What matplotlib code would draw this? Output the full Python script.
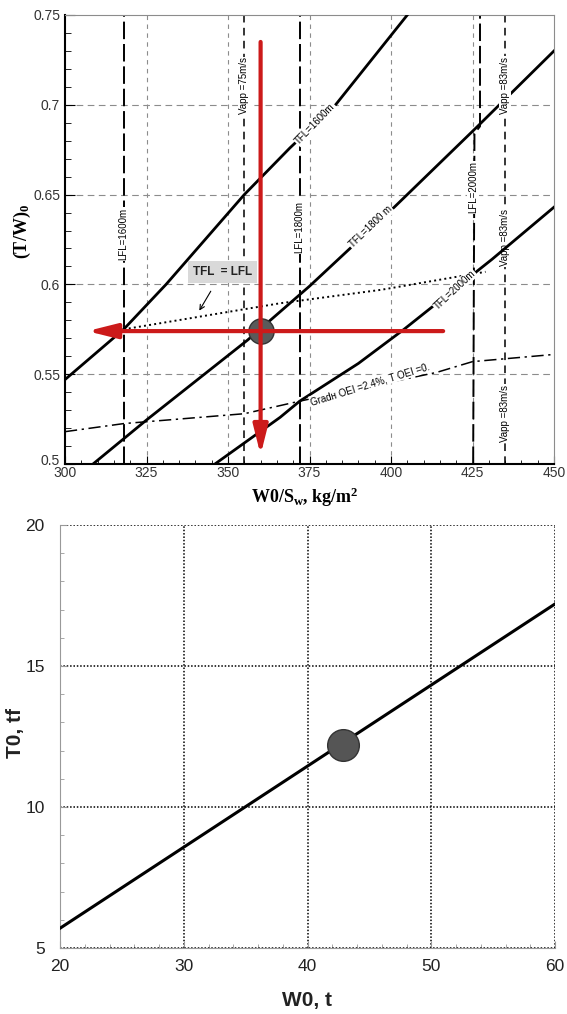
import matplotlib
matplotlib.use("Agg")
import matplotlib.pyplot as plt
import matplotlib.transforms as mtransforms
from matplotlib.ticker import MultipleLocator

plt.rcParams["font.family"] = ["Liberation Sans", "DejaVu Sans"]
plt.rcParams["mathtext.fontset"] = "custom"
plt.rcParams["mathtext.rm"] = "Liberation Serif"
plt.rcParams["mathtext.it"] = "Liberation Serif:italic"
plt.rcParams["mathtext.bf"] = "Liberation Serif:bold"

# ── data: constraint diagram (wing loading vs thrust/weight) ────────────────
TFL1600_X = [300, 318, 331, 355, 369, 383, 405]
TFL1600_Y = [0.547, 0.575, 0.600, 0.650, 0.676, 0.700, 0.750]
TFL1800_X = [308.6, 325, 356, 375, 401, 426, 450]
TFL1800_Y = [0.500, 0.5245, 0.569, 0.599, 0.643, 0.687, 0.730]
TFL2000_X = [346, 366, 372, 390, 404, 431, 450]
TFL2000_Y = [0.500, 0.526, 0.535, 0.556, 0.575, 0.614, 0.643]

TFL_EQ_LFL_X = [318, 366, 397, 429]
TFL_EQ_LFL_Y = [0.575, 0.5895, 0.597, 0.607]

GRAD_X = [300, 318, 355, 372, 414, 425, 450]
GRAD_Y = [0.518, 0.5225, 0.528, 0.535, 0.551, 0.557, 0.561]

LFL1600_X = [318, 318]
LFL1800_X = [372, 372]
LFL2000_X = [425.2, 425.6, 427.3, 427.3]
LFL2000_Y = [0.500, 0.684, 0.688, 0.750]
VAPP75_X = [355, 355]
VAPP83_X = [435, 435]
FULL_Y = [0.5, 0.75]

DESIGN_WS = 360
DESIGN_TW = 0.574

# ── data: thrust vs take-off weight ─────────────────────────────────────────
W0 = [20, 60]
T0 = [5.7, 17.2]
DESIGN_W0 = 42.9
DESIGN_T0 = 12.2

RED = "#cc1a1a"
GRID = "#8c8c8c"

fig = plt.figure(figsize=(5.67, 10.14), dpi=100)

# ── top chart ───────────────────────────────────────────────────────────────
ax = fig.add_axes([65 / 567, 550 / 1014, 489 / 567, 449 / 1014])
ax.set_xlim(300, 450)
ax.set_ylim(0.5, 0.75)

for x in [325, 350, 375, 400, 425]:
    ax.axvline(x, color=GRID, lw=0.8, ls=(0, (4, 4)), zorder=0)
for y in [0.55, 0.6, 0.65, 0.7]:
    ax.axhline(y, color=GRID, lw=0.8, ls=(0, (6, 4)), zorder=0)

# field length / approach speed limits
lfl_style = dict(color="black", lw=1.4, ls=(0, (9, 2.5)), zorder=2)
vapp_style = dict(color="black", lw=1.1, ls=(0, (5, 3.5)), zorder=2)
ax.plot(LFL1600_X, FULL_Y, **lfl_style)
ax.plot(LFL1800_X, FULL_Y, **lfl_style)
ax.plot(LFL2000_X, LFL2000_Y, **lfl_style)
ax.plot(VAPP75_X, FULL_Y, **vapp_style)
ax.plot(VAPP83_X, FULL_Y, **vapp_style)

# take-off field length curves
for xs, ys in [(TFL1600_X, TFL1600_Y), (TFL1800_X, TFL1800_Y), (TFL2000_X, TFL2000_Y)]:
    ax.plot(xs, ys, color="black", lw=2.0, zorder=4)

ax.plot(TFL_EQ_LFL_X, TFL_EQ_LFL_Y, color="black", lw=1.4, ls=":", zorder=3)
ax.plot(GRAD_X, GRAD_Y, color="black", lw=1.1, ls=(0, (8, 3, 1.5, 3)), zorder=3)

# line labels (white patch breaks the line, Tecplot style)
lbl = dict(fontsize=7, ha="center", va="center", rotation_mode="anchor",
           bbox=dict(facecolor="white", edgecolor="none", pad=0.6), zorder=5)
ax.text(318, 0.628, "LFL=1600m", rotation=90, **lbl)
ax.text(355, 0.7105, "Vapp =75m/s", rotation=90, **lbl)
ax.text(372, 0.632, "LFL=1800m", rotation=90, **lbl)
ax.text(425.2, 0.654, "LFL=2000m", rotation=90, **lbl)
ax.text(435, 0.711, "Vapp =83m/s", rotation=90, **lbl)
ax.text(435, 0.626, "Vapp =83m/s", rotation=90, **{**lbl, "zorder": 3.5})
ax.text(435, 0.528, "Vapp =83m/s", rotation=90, **lbl)
ax.text(376.7, 0.6895, "TFL=1600m", rotation=46, **lbl)
ax.text(393.8, 0.632, "TFL=1800 m", rotation=44, **lbl)
ax.text(419.5, 0.597, "TFL=2000m", rotation=43, **lbl)
ax.text(393.5, 0.5445, "Gradн OEI =2.4%, T OEI =0.", rotation=17, **lbl)

ax.annotate("TFL  = LFL", xy=(341.2, 0.5854), xytext=(348.2, 0.6069),
            fontsize=8.5, fontweight="bold", color="#222222", ha="center", va="center",
            bbox=dict(facecolor="#d9d9d9", edgecolor="none", pad=3.5),
            arrowprops=dict(arrowstyle="->", color="black", lw=0.8,
                            shrinkA=7, shrinkB=0), zorder=6)

# design point and read-off arrows
ax.scatter([DESIGN_WS], [DESIGN_TW], s=330, color="#5a5a5a", edgecolor="#333333",
           lw=1.0, zorder=7)
arrow = dict(arrowstyle="-|>,head_length=0.8,head_width=0.2", color=RED, lw=3,
             mutation_scale=22, shrinkA=0, shrinkB=0)
ax.annotate("", xy=(DESIGN_WS, 0.505), xytext=(DESIGN_WS, 0.735),
            arrowprops=arrow, zorder=8)
ax.annotate("", xy=(306.8, DESIGN_TW), xytext=(416, DESIGN_TW),
            arrowprops=arrow, zorder=8)

ax.xaxis.set_major_locator(MultipleLocator(25))
ax.xaxis.set_minor_locator(MultipleLocator(5))
ax.yaxis.set_minor_locator(MultipleLocator(0.01))
ax.set_yticks([0.5, 0.55, 0.6, 0.65, 0.7, 0.75])
ax.set_yticklabels(["0.5", "0.55", "0.6", "0.65", "0.7", "0.75"])
ax.tick_params(which="both", direction="in", labelsize=10, labelcolor="#333333")
ax.tick_params(axis="x", which="major", length=5.5, pad=1.5)
ax.tick_params(axis="x", which="minor", length=3)
ax.tick_params(axis="y", which="major", length=7, pad=3.5)
ax.tick_params(axis="y", which="minor", length=4.5)
# lift "0.5" a touch so it does not sit on top of "300"
lift = mtransforms.ScaledTranslation(0, 3 / 72, fig.dpi_scale_trans)
first = ax.yaxis.get_major_ticks()[0].label1
first.set_transform(first.get_transform() + lift)
for side in ["left", "bottom"]:
    ax.spines[side].set_linewidth(1.5)
for side in ["top", "right"]:
    ax.spines[side].set_color(GRID)
    ax.spines[side].set_linewidth(0.8)

ax.text(-0.087, 0.517, r"(T/W)$_\mathbf{0}$", transform=ax.transAxes, fontsize=13,
        family="Liberation Serif", fontweight="bold", rotation=90,
        ha="center", va="center")
ax.text(0.49, -0.0735, r"W0/S$_\mathbf{w}$, kg/m$^\mathbf{2}$", transform=ax.transAxes,
        fontsize=13, family="Liberation Serif", fontweight="bold",
        ha="center", va="center")

# ── bottom chart ────────────────────────────────────────────────────────────
ax2 = fig.add_axes([60 / 567, 66 / 1014, 495 / 567, 423 / 1014])
ax2.set_xlim(20, 60)
ax2.set_ylim(5, 20)
ax2.plot(W0, T0, color="black", lw=2.2, zorder=3)
ax2.scatter([DESIGN_W0], [DESIGN_T0], s=520, color="#555555", edgecolor="#333333",
            lw=1.0, zorder=4)

ax2.xaxis.set_major_locator(MultipleLocator(10))
ax2.xaxis.set_minor_locator(MultipleLocator(2))
ax2.yaxis.set_major_locator(MultipleLocator(5))
ax2.yaxis.set_minor_locator(MultipleLocator(1))
ax2.grid(which="major", color="black", lw=1.1, ls=(0, (1, 1.2)))
ax2.tick_params(which="both", direction="in", color="#999999", labelsize=12.5,
                labelcolor="#222222")
ax2.tick_params(which="major", length=5)
ax2.tick_params(which="minor", length=3)
ax2.tick_params(axis="x", pad=8)
ax2.tick_params(axis="y", pad=11)
for side in ["left", "bottom"]:
    ax2.spines[side].set_color("#999999")
for side in ["top", "right"]:
    ax2.spines[side].set_visible(False)

ax2.text(0.5, -0.125, "W0, t", transform=ax2.transAxes, fontsize=15,
         fontweight="bold", color="#222222", ha="center", va="center")
ax2.text(-0.089, 0.508, "T0, tf", transform=ax2.transAxes, fontsize=15,
         fontweight="bold", color="#222222", rotation=90, ha="center", va="center")

fig.savefig("out.png", dpi=100)
